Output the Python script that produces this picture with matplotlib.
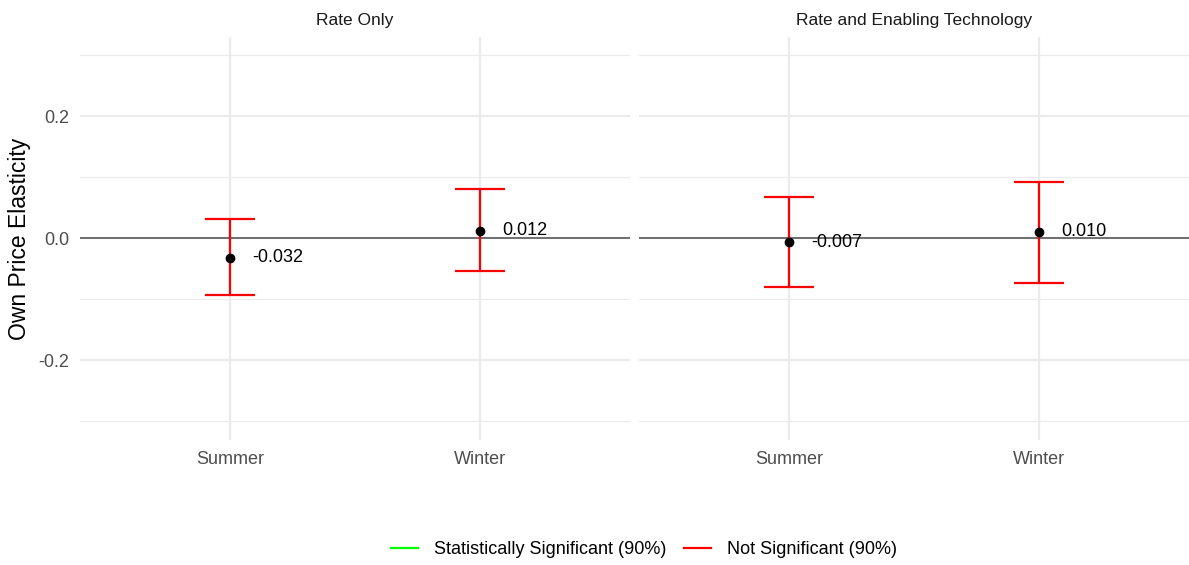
import matplotlib
matplotlib.use("Agg")
from matplotlib import pyplot as plt
from matplotlib.lines import Line2D

plt.rcParams['font.family'] = ['Liberation Sans', 'DejaVu Sans']

# elasticity estimates with 90% confidence bounds, one panel per treatment
panels = ['Rate Only', 'Rate and Enabling Technology']
seasons = ['Summer', 'Winter']
estimates = [[-0.032, 0.012], [-0.007, 0.010]]
lower = [[-0.093, -0.054], [-0.080, -0.074]]
upper = [[0.031, 0.080], [0.067, 0.092]]
significant = [[False, False], [False, False]]

SIG_COLOR = '#00FF00'
NOT_SIG_COLOR = '#FF0000'
GRID = '#EBEBEB'

W, H = 1189, 565
fig = plt.figure(figsize=(W / 100, H / 100), dpi=100)

top_px, bottom_px = 37, 440
panel_left = [80, 639]
panel_w = 550

axes = []
for p, name in enumerate(panels):
    rect = [panel_left[p] / W, 1 - bottom_px / H, panel_w / W, (bottom_px - top_px) / H]
    ax = fig.add_axes(rect)
    axes.append(ax)
    xs = list(range(1, len(seasons) + 1))

    ax.axhline(0, color='#4D4D4D', lw=1.1, zorder=2)
    for i, x in enumerate(xs):
        col = SIG_COLOR if significant[p][i] else NOT_SIG_COLOR
        est = estimates[p][i]
        ax.errorbar(x, est, yerr=[[est - lower[p][i]], [upper[p][i] - est]],
                    fmt='none', ecolor=col, elinewidth=1.6, capsize=0, zorder=3)
        # caps drawn as data-width segments (width 0.2 in category units)
        for yy in (lower[p][i], upper[p][i]):
            ax.plot([x - 0.1, x + 0.1], [yy, yy], color=col, lw=1.6, zorder=3,
                    solid_capstyle='butt')
        ax.plot(x, est, 'o', color='black', ms=6, zorder=4)
        ax.text(x + 0.09, est, f'{est:.3f}', ha='left', va='center',
                fontsize=13, color='black', zorder=5)

    ax.set_xlim(0.4, len(seasons) + 0.6)
    ax.set_ylim(-0.331, 0.3295)
    ax.set_xticks(xs)
    ax.set_xticklabels(seasons)
    ax.set_yticks([-0.2, 0.0, 0.2])
    ax.set_yticks([-0.3, -0.1, 0.1, 0.3], minor=True)
    ax.set_yticklabels(['-0.2', '0.0', '0.2'])
    ax.grid(True, which='major', color=GRID, lw=1.6, zorder=0)
    ax.grid(True, which='minor', axis='y', color=GRID, lw=0.9, zorder=0)
    ax.set_axisbelow(True)
    for s in ax.spines.values():
        s.set_visible(False)
    ax.tick_params(which='both', length=0, labelsize=13, labelcolor='#4D4D4D', pad=8)
    ax.set_title(name, fontsize=12.5, color='#1A1A1A', pad=9)
    if p > 0:
        ax.tick_params(axis='y', labelleft=False)

axes[0].set_ylabel('Own Price Elasticity', fontsize=16.5, color='black')
axes[0].yaxis.set_label_coords(-0.09, 0.5)

handles = [Line2D([], [], color=SIG_COLOR, lw=1.6),
           Line2D([], [], color=NOT_SIG_COLOR, lw=1.6)]
fig.legend(handles, ['Statistically Significant (90%)', 'Not Significant (90%)'],
           loc='center', bbox_to_anchor=(0.5416, 1 - 550 / H), ncol=2, frameon=False,
           fontsize=13, handlelength=1.5, handletextpad=0.85, columnspacing=1.0)

fig.savefig('out.png', dpi=100, facecolor='white')
